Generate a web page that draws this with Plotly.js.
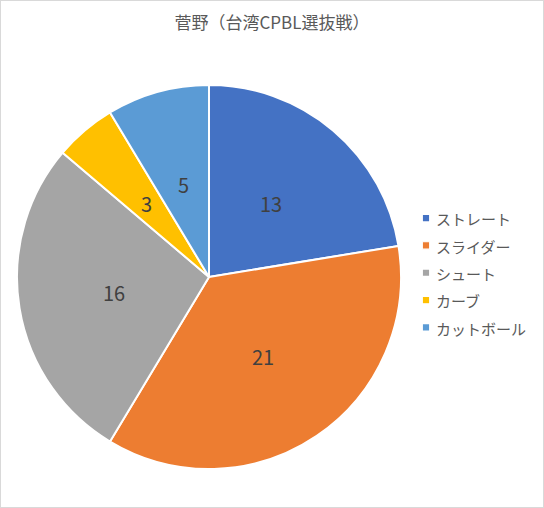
<!DOCTYPE html>
<html><head><meta charset="utf-8">
<script src="https://cdn.plot.ly/plotly-3.0.1.min.js"></script>
<style>
html,body{margin:0;padding:0;background:#fff;}
#c{width:542px;height:506px;border:1px solid #d9d9d9;}
#c .legendpoints path.legendpie{transform:translate(30px,0px) scale(0.62);}
</style>
</head><body><div id="c"></div>
<script>
const categories = ["ストレート", "スライダー", "シュート", "カーブ", "カットボール"];
const values = [13, 21, 16, 3, 5];
const colors = ["#4472C4", "#ED7D31", "#A5A5A5", "#FFC000", "#5B9BD5"];
const titleText = "菅野（台湾CPBL選抜戦）";

const W = 542, H = 506;
const cx = 208, cy = 276, r = 192;
const dom = {x: [(cx - r) / W, (cx + r) / W], y: [(H - (cy + r)) / H, (H - (cy - r)) / H]};
const FONT = "Noto Sans CJK JP, sans-serif";

// label annotations placed at half radius along each slice bisector (computed from data)
const total = values.reduce((a, b) => a + b, 0);
let acc = 0;
const annotations = values.map(v => {
  const mid = (acc + v / 2) / total; acc += v;
  const ang = Math.PI / 2 - mid * 2 * Math.PI;
  const px = cx + 0.5 * r * Math.cos(ang), py = cy - 0.5 * r * Math.sin(ang);
  return {x: px / W, y: 1 - py / H, xref: "paper", yref: "paper", xanchor: "center", yanchor: "middle",
    text: String(v), showarrow: false,
    font: {family: FONT, size: 20, color: "#404040"}};
});

const legendLabels = categories.map(c => '<span style="font-size:15px">' + c + '</span>');

Plotly.newPlot("c", [{
  type: "pie", labels: legendLabels, values: values, sort: false, direction: "clockwise", rotation: 0,
  marker: {colors: colors, line: {color: "#ffffff", width: 2}},
  textinfo: "none", hoverinfo: "value", domain: dom
}], {
  width: W, height: H, margin: {l: 0, r: 0, t: 0, b: 0},
  paper_bgcolor: "#ffffff",
  title: {text: titleText, x: 0.5, xanchor: "center", y: 1 - 22 / H, yanchor: "middle",
    font: {family: FONT, size: 17, color: "#595959"}},
  showlegend: true,
  legend: {x: 395 / W, xanchor: "left", y: 1 - 272 / H, yanchor: "middle",
    font: {family: FONT, size: 18.7, color: "#595959"},
    itemwidth: 30, bgcolor: "rgba(0,0,0,0)"},
  annotations: annotations
}, {displayModeBar: false, staticPlot: true});
</script></body></html>
